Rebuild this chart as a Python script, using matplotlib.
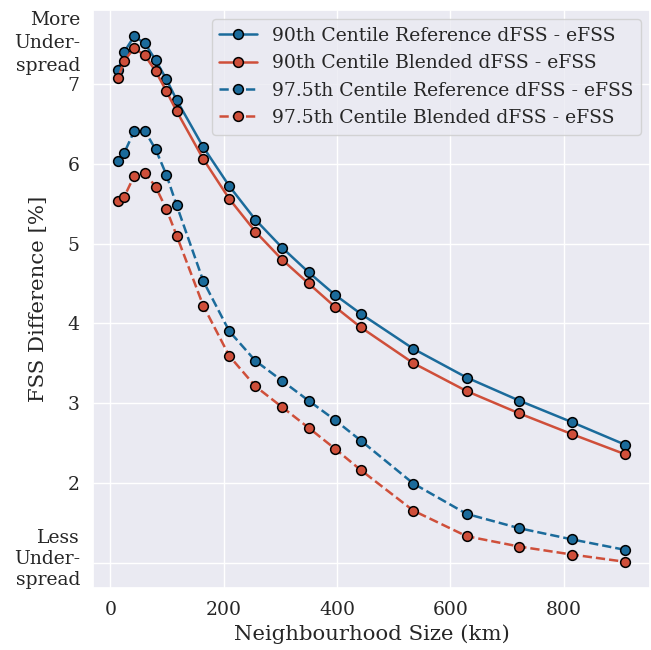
import matplotlib
matplotlib.use("Agg")
import matplotlib.pyplot as plt
import seaborn as sns

# neighbourhood sizes (km)
nbhd = [14, 24, 42, 61, 80, 99, 117, 164, 210, 256, 303, 350, 396, 442,
        535, 629, 722, 815, 908]

# FSS differences [%]
ref_90 = [7.18, 7.40, 7.60, 7.51, 7.30, 7.06, 6.80, 6.21, 5.72, 5.30, 4.95,
          4.64, 4.36, 4.12, 3.68, 3.32, 3.03, 2.76, 2.48]
bld_90 = [7.08, 7.29, 7.45, 7.36, 7.16, 6.91, 6.66, 6.06, 5.56, 5.15, 4.80,
          4.50, 4.21, 3.95, 3.50, 3.15, 2.87, 2.61, 2.36]
ref_975 = [6.04, 6.13, 6.41, 6.41, 6.18, 5.86, 5.48, 4.53, 3.90, 3.53, 3.28,
           3.03, 2.79, 2.53, 1.99, 1.61, 1.43, 1.29, 1.16]
bld_975 = [5.53, 5.58, 5.85, 5.89, 5.71, 5.43, 5.10, 4.22, 3.59, 3.21, 2.95,
           2.69, 2.43, 2.16, 1.65, 1.33, 1.20, 1.10, 1.01]

yticks = [1, 2, 3, 4, 5, 6, 7]
yticklabels = ['', '2', '3', '4', '5', '6', '7']

blue = '#1b6b9b'
red = '#cf4f3a'

sns.set_theme(style='darkgrid')
plt.rcParams['font.family'] = ['DejaVu Serif']

fig, ax = plt.subplots(figsize=(6.51, 6.5), dpi=100)
fig.subplots_adjust(left=93/651, right=650/651, top=1-10/650, bottom=1-588/650)

mk = dict(marker='o', markersize=7, markeredgecolor='black', markeredgewidth=1.1)
ax.plot(nbhd, ref_90, '-', color=blue, lw=1.8, label='90th Centile Reference dFSS - eFSS', **mk)
ax.plot(nbhd, bld_90, '-', color=red, lw=1.8, label='90th Centile Blended dFSS - eFSS', **mk)
ax.plot(nbhd, ref_975, '--', color=blue, lw=1.8, label='97.5th Centile Reference dFSS - eFSS', **mk)
ax.plot(nbhd, bld_975, '--', color=red, lw=1.8, label='97.5th Centile Blended dFSS - eFSS', **mk)

ax.set_yticks(yticks)
ax.set_yticklabels(yticklabels)
# labels for the ends of the scale (no grid lines)
ax.set_yticks([1.09, 7.57], minor=True)
ax.set_yticklabels(['Less\nUnder-\nspread', 'More\nUnder-\nspread'], minor=True)
for lbl, ls in zip(ax.get_yticklabels(minor=True), [1.2, 1.37]):
    lbl.set_linespacing(ls)
ax.tick_params(axis='both', which='both', labelsize=13.5)
ax.tick_params(axis='y', which='minor', length=0, pad=plt.rcParams['ytick.major.pad'] + 5.8)
ax.grid(which='minor', visible=False)

ax.set_xlabel('Neighbourhood Size (km)', fontsize=15.3)
ax.set_ylabel('FSS Difference [%]', fontsize=15.3)
ax.yaxis.set_label_coords(-0.081, 0.5)
ax.legend(loc='upper right', fontsize=13.5)

fig.savefig('out.png')
